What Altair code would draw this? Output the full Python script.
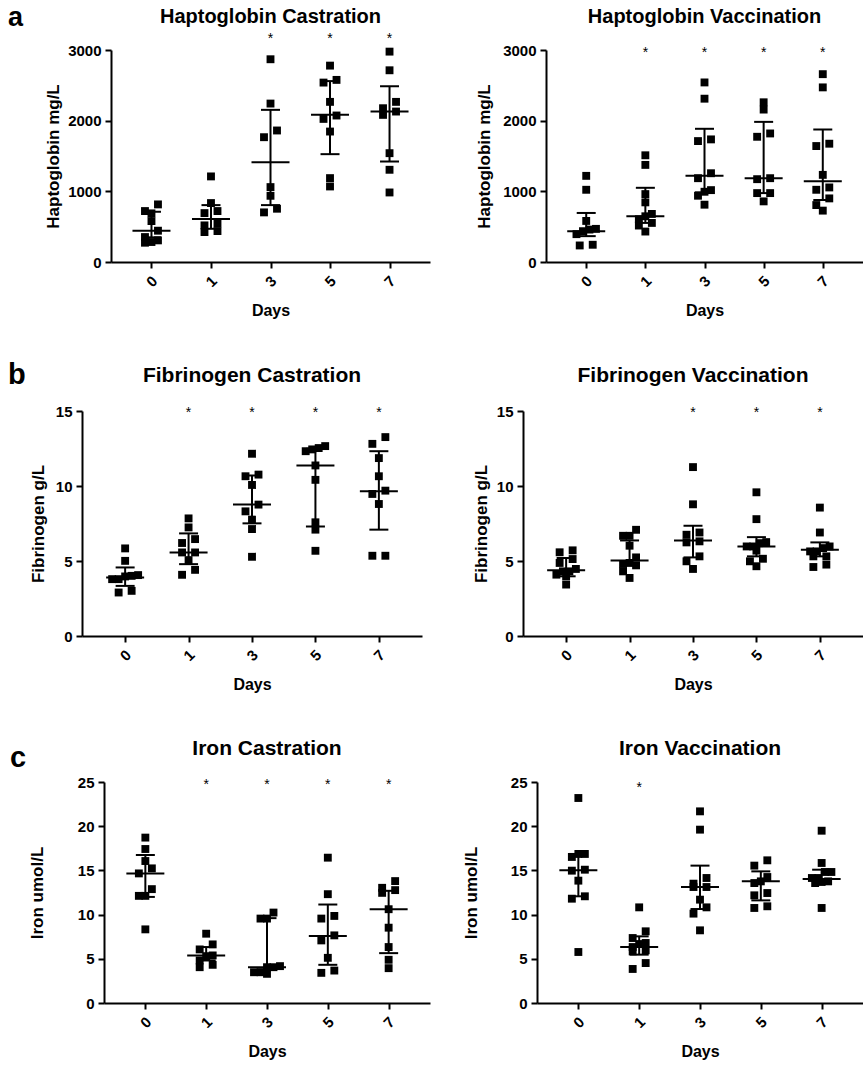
import altair as alt
import pandas as pd

FONT = "Liberation Sans"
DAYS = ["0", "1", "3", "5", "7"]

# ---------------- Haptoglobin Castration (mg/L) ----------------
hap_cas_d0 = [815, 688, 721, 579, 443, 353, 306, 273, 283]
hap_cas_d1 = [1211, 834, 721, 692, 518, 546, 424, 438]
hap_cas_d3 = [2869, 2242, 1861, 1766, 1060, 937, 754, 702]
hap_cas_d5 = [2779, 2539, 2577, 2266, 2025, 2073, 1846, 1187, 1069]
hap_cas_d7 = [2977, 2713, 2266, 2176, 2129, 2082, 1540, 1305, 984]
hap_cas_med = [443, 608, 1413, 2082, 2129]
hap_cas_q1 = [349, 470, 805, 1526, 1422]
hap_cas_q3 = [711, 805, 2153, 2560, 2487]
hap_cas_sig = ["3", "5", "7"]

# ---------------- Haptoglobin Vaccination (mg/L) ----------------
hap_vac_d0 = [1219, 1022, 581, 469, 436, 459, 394, 234, 244]
hap_vac_d1 = [1510, 1374, 844, 961, 680, 647, 605, 553, 431, 516]
hap_vac_d3 = [2541, 2311, 1735, 1711, 1256, 1186, 1017, 994, 938, 811]
hap_vac_d5 = [2260, 2157, 1772, 1819, 1186, 1172, 975, 975, 858]
hap_vac_d7 = [2658, 2471, 1674, 1641, 1233, 1055, 1022, 900, 806, 727]
hap_vac_med = [436, 647, 1219, 1186, 1144]
hap_vac_q1 = [366, 553, 985, 975, 877]
hap_vac_q3 = [694, 1050, 1885, 1983, 1875]
hap_vac_sig = ["1", "3", "5", "7"]

# ---------------- Fibrinogen Castration (g/L) ----------------
fib_cas_d0 = [5.84, 5.01, 4.06, 4.01, 3.97, 3.79, 3.79, 2.90, 3.01]
fib_cas_d1 = [7.84, 7.24, 6.20, 6.46, 5.57, 5.57, 5.06, 4.41, 4.08]
fib_cas_d3 = [12.15, 10.65, 10.76, 10.07, 8.76, 8.31, 7.76, 7.13, 5.28]
fib_cas_d5 = [12.66, 12.32, 12.44, 12.53, 11.37, 10.41, 7.58, 7.09, 5.68]
fib_cas_d7 = [13.26, 12.81, 11.86, 10.65, 9.47, 9.69, 8.80, 5.35, 5.35]
fib_cas_med = [3.90, 5.57, 8.76, 11.37, 9.65]
fib_cas_q1 = [3.34, 4.79, 7.51, 7.30, 7.09]
fib_cas_q3 = [4.57, 6.84, 10.70, 12.48, 12.32]
fib_cas_sig = ["1", "3", "5", "7"]

# ---------------- Fibrinogen Vaccination (g/L) ----------------
fib_vac_d0 = [5.58, 5.71, 5.13, 4.87, 4.47, 4.31, 4.31, 4.09, 3.98, 3.43]
fib_vac_d1 = [7.08, 6.68, 6.68, 6.02, 5.24, 4.80, 4.87, 4.71, 4.31, 3.87]
fib_vac_d3 = [11.26, 8.78, 6.75, 6.90, 6.31, 6.24, 5.31, 4.98, 4.47]
fib_vac_d5 = [9.58, 7.79, 6.19, 6.26, 5.97, 5.97, 5.69, 5.15, 4.98, 4.65]
fib_vac_d7 = [8.56, 6.90, 5.97, 5.86, 5.64, 5.64, 5.31, 5.31, 4.76, 4.60]
fib_vac_med = [4.38, 5.04, 6.37, 5.97, 5.75]
fib_vac_q1 = [3.98, 4.76, 5.24, 5.31, 5.31]
fib_vac_q3 = [5.20, 6.37, 7.35, 6.59, 6.24]
fib_vac_sig = ["3", "5", "7"]

# ---------------- Iron Castration (umol/L) ----------------
iron_cas_d0 = [18.71, 17.42, 16.06, 15.23, 14.66, 12.12, 12.12, 12.88, 8.33]
iron_cas_d1 = [7.84, 6.63, 6.06, 5.38, 5.30, 4.81, 4.32, 4.05]
iron_cas_d3 = [9.55, 9.55, 10.23, 4.17, 4.05, 3.48, 3.30, 3.48, 4.05]
iron_cas_d5 = [16.44, 12.31, 9.85, 9.55, 7.65, 7.08, 5.11, 3.41, 3.67]
iron_cas_d7 = [13.79, 13.03, 12.77, 12.46, 10.61, 8.52, 6.33, 4.89, 3.94]
iron_cas_med = [14.66, 5.38, 4.05, 7.58, 10.61]
iron_cas_q1 = [12.0, 4.81, 3.8, 4.32, 5.64]
iron_cas_q3 = [16.74, 6.33, 9.6, 11.14, 12.69]
iron_cas_sig = ["1", "3", "5", "7"]

# ---------------- Iron Vaccination (umol/L) ----------------
iron_vac_d0 = [23.19, 16.86, 16.52, 16.86, 15.08, 14.97, 13.84, 12.07, 11.80, 5.77]
iron_vac_d1 = [10.82, 8.11, 7.35, 6.79, 6.67, 6.33, 5.84, 5.96, 4.52, 3.85]
iron_vac_d3 = [21.68, 19.61, 13.50, 14.14, 13.12, 13.12, 11.69, 10.82, 10.11, 8.22]
iron_vac_d5 = [16.14, 15.54, 14.25, 13.76, 13.57, 12.18, 12.44, 10.75, 10.94]
iron_vac_d7 = [19.49, 15.84, 14.82, 14.82, 14.14, 14.14, 13.76, 13.57, 13.69, 10.75]
iron_vac_med = [15.01, 6.33, 13.12, 13.76, 14.03]
iron_vac_q1 = [12.07, 5.47, 10.63, 11.61, 13.57]
iron_vac_q3 = [16.86, 7.54, 15.54, 14.89, 15.08]
iron_vac_sig = ["1"]

PAD = 0.68  # outer padding of the day axis (in steps)


def swarm_offsets(values, ymax, H, side=7.0, d=6.5):
    """Column-scatter layout: points closer than one symbol vertically share a row
    and are spread symmetrically (pixel offsets)."""
    px = [v / ymax * H for v in values]
    order = sorted(range(len(values)), key=lambda i: -values[i])
    rows, cur = [], []
    for i in order:
        if cur and px[cur[0]] - px[i] >= side:
            rows.append(cur)
            cur = []
        cur.append(i)
    if cur:
        rows.append(cur)
    offs = [0.0] * len(values)
    for row in rows:
        n = len(row)
        if n == 1:
            continue
        span = d * max(2, n - 1)
        r = sorted(row, key=lambda i: values[i])
        for k, i in enumerate(r):
            offs[i] = -span / 2 + span * k / (n - 1)
    return offs


def panel(groups, med, q1, q3, sig, ymax, ystep, ytitle, title, W, H, L, R, T, B,
          title_dy, ytitle_x, ast_dy, letter=None, letter_x=0, letter_dy=0, title_size=20,
          letter_size=29):
    step = W / (4 + 2 * PAD)
    rows = []
    for k, vals in enumerate(groups):
        offs = swarm_offsets(vals, ymax, H)
        for v, o in zip(vals, offs):
            rows.append({"idx": k + o / step, "value": v})
    pts = pd.DataFrame(rows)
    summ = pd.DataFrame({"idx": list(range(5)), "med": med, "q1": q1, "q3": q3})
    caps = pd.DataFrame({"idx": list(range(5)) * 2, "cap": list(q1) + list(q3)})
    ast = pd.DataFrame({"idx": [DAYS.index(s) for s in sig]})
    one = pd.DataFrame({"k": [0]})

    label_expr = "[" + ",".join("'%s'" % d for d in DAYS) + "][datum.value]"
    xs = alt.Scale(domain=[-PAD, 4 + PAD], nice=False, zero=False)
    ys = alt.Scale(domain=[0, ymax], nice=False, zero=True)
    xaxis = alt.Axis(values=[0, 1, 2, 3, 4], labelExpr=label_expr, title="Days",
                     labelAngle=-45, labelAlign="center", labelBaseline="middle",
                     labelPadding=13, titleY=53, titleBaseline="alphabetic", grid=False)
    yaxis = alt.Axis(values=list(range(0, ymax + 1, ystep)), title=ytitle, format="d",
                     titleX=ytitle_x, titleBaseline="bottom", grid=False, labelPadding=4)

    def X():
        return alt.X("idx:Q", scale=xs, axis=xaxis)

    # invisible frame fixing the panel's vertical extent in the layout
    frame = alt.Chart(one).mark_rect(opacity=0, color="white").encode(
        x=alt.value(-L), x2=alt.value(W + R), y=alt.value(-T), y2=alt.value(H + B))
    points = alt.Chart(pts).mark_square(size=62, color="black", opacity=1, filled=True).encode(
        x=X(), y=alt.Y("value:Q", scale=ys, axis=yaxis))
    vbar = alt.Chart(summ).mark_rule(color="black", strokeWidth=2).encode(
        x=X(), y=alt.Y("q1:Q", scale=ys, axis=yaxis), y2="q3:Q")
    medt = alt.Chart(summ).mark_tick(orient="horizontal", size=38, thickness=2, color="black",
                                     opacity=1).encode(
        x=X(), y=alt.Y("med:Q", scale=ys, axis=yaxis))
    capt = alt.Chart(caps).mark_tick(orient="horizontal", size=19, thickness=2, color="black",
                                     opacity=1).encode(
        x=X(), y=alt.Y("cap:Q", scale=ys, axis=yaxis))
    astt = alt.Chart(ast).mark_text(text="*", font=FONT, fontSize=14, color="black",
                                    align="center", baseline="alphabetic").encode(
        x=X(), y=alt.value(ast_dy + 8))
    tt = alt.Chart(one).mark_text(text=title, font=FONT, fontSize=title_size, fontWeight="bold",
                                  color="black", align="center", baseline="alphabetic").encode(
        x=alt.value(W / 2), y=alt.value(title_dy))
    layers = [frame, points, vbar, medt, capt, astt, tt]
    if letter:
        lt = alt.Chart(one).mark_text(text=letter, font=FONT, fontSize=letter_size,
                                      fontWeight="bold", color="black", align="left",
                                      baseline="alphabetic").encode(
            x=alt.value(letter_x), y=alt.value(letter_dy))
        layers.append(lt)
    return alt.layer(*layers).properties(width=W, height=H)


def spacer(w):
    # invisible view of fixed width: positions the panels in a flush row
    one = pd.DataFrame({"k": [0]})
    return alt.Chart(one).mark_rect(opacity=0, color="white").encode(
        x=alt.value(0), x2=alt.value(1), y=alt.value(0), y2=alt.value(1)
    ).properties(width=w, height=1)


a_left = panel([hap_cas_d0, hap_cas_d1, hap_cas_d3, hap_cas_d5, hap_cas_d7],
               hap_cas_med, hap_cas_q1, hap_cas_q3, hap_cas_sig, 3000, 1000,
               "Haptoglobin mg/L", "Haptoglobin Castration",
               W=319, H=212, L=100, R=30, T=50, B=78, title_dy=-27, ytitle_x=-49, ast_dy=-15,
               letter="a", letter_x=-103, letter_dy=-24, letter_size=27)
a_right = panel([hap_vac_d0, hap_vac_d1, hap_vac_d3, hap_vac_d5, hap_vac_d7],
                hap_vac_med, hap_vac_q1, hap_vac_q3, hap_vac_sig, 3000, 1000,
                "Haptoglobin mg/L", "Haptoglobin Vaccination",
                W=317, H=212, L=70, R=0, T=50, B=78, title_dy=-27, ytitle_x=-53, ast_dy=-1)

b_left = panel([fib_cas_d0, fib_cas_d1, fib_cas_d3, fib_cas_d5, fib_cas_d7],
               fib_cas_med, fib_cas_q1, fib_cas_q3, fib_cas_sig, 15, 5,
               "Fibrinogen g/L", "Fibrinogen Castration",
               W=340, H=225, L=70, R=30, T=71, B=79, title_dy=-29, ytitle_x=-35, ast_dy=-2,
               letter="b", letter_x=-74, letter_dy=-27, title_size=21)
b_right = panel([fib_vac_d0, fib_vac_d1, fib_vac_d3, fib_vac_d5, fib_vac_d7],
                fib_vac_med, fib_vac_q1, fib_vac_q3, fib_vac_sig, 15, 5,
                "Fibrinogen g/L", "Fibrinogen Vaccination",
                W=340, H=225, L=50, R=0, T=71, B=79, title_dy=-29, ytitle_x=-33, ast_dy=-2,
                title_size=21)

c_left = panel([iron_cas_d0, iron_cas_d1, iron_cas_d3, iron_cas_d5, iron_cas_d7],
               iron_cas_med, iron_cas_q1, iron_cas_q3, iron_cas_sig, 25, 5,
               "Iron umol/L", "Iron Castration",
               W=326, H=221, L=90, R=30, T=67, B=64, title_dy=-27, ytitle_x=-58, ast_dy=-1,
               letter="c", letter_x=-94, letter_dy=-15, title_size=21)
c_right = panel([iron_vac_d0, iron_vac_d1, iron_vac_d3, iron_vac_d5, iron_vac_d7],
                iron_vac_med, iron_vac_q1, iron_vac_q3, iron_vac_sig, 25, 5,
                "Iron umol/L", "Iron Vaccination",
                W=326, H=221, L=60, R=0, T=67, B=64, title_dy=-27, ytitle_x=-57, ast_dy=2,
                title_size=21)


def row(left_x, left, W_left, right_x, right):
    # flush layout: the plot areas start exactly at left_x and right_x
    return alt.hconcat(spacer(left_x), left, spacer(right_x - left_x - W_left), right,
                       spacing=0, bounds="flush").resolve_scale(x="independent", y="independent")


chart = alt.vconcat(
    row(111, a_left, 319, 546, a_right),
    row(82, b_left, 340, 523, b_right),
    row(104, c_left, 326, 537, c_right),
    spacing=0,
).properties(padding=0).configure_view(strokeWidth=0).configure_axis(
    domainColor="black", domainWidth=2, tickColor="black", tickWidth=2, tickSize=6,
    labelFont=FONT, labelFontSize=15, labelFontWeight="bold", labelColor="black",
    titleFont=FONT, titleFontSize=17, titleFontWeight="bold", titleColor="black",
).configure_axisX(titleFontSize=16)

chart.save("out.html", embed_options={"renderer": "svg", "actions": False})
